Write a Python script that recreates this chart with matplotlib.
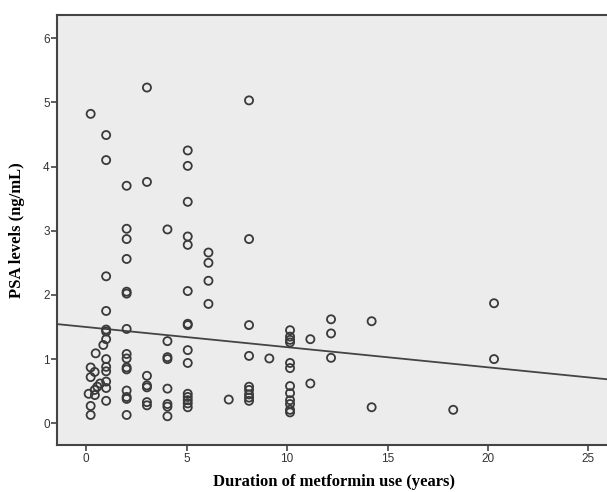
import matplotlib
matplotlib.use("Agg")
import matplotlib.pyplot as plt
import numpy as np

# ---- data ----
x_near0 = [0.23, 0.48, 0.86, 0.23, 0.43, 0.23, 0.70, 0.56, 0.43, 0.13, 0.44, 0.23, 0.23]
y_near0 = [4.82, 1.09, 1.22, 0.87, 0.80, 0.72, 0.62, 0.57, 0.52, 0.46, 0.44, 0.27, 0.13]

y_1yr = [4.49, 4.10, 2.29, 1.75, 1.46, 1.43, 1.31, 1.00, 0.88, 0.81, 0.65, 0.55, 0.35]
y_2yr = [3.70, 3.03, 2.87, 2.56, 2.05, 2.02, 1.47, 1.08, 1.01, 0.87, 0.84, 0.51, 0.41, 0.38, 0.13]
y_3yr = [5.23, 3.76, 0.74, 0.59, 0.56, 0.33, 0.28]
y_4yr = [3.02, 1.28, 1.03, 1.00, 0.54, 0.30, 0.26, 0.11]
y_5yr = [4.25, 4.01, 3.45, 2.91, 2.78, 2.06, 1.55, 1.53, 1.14, 0.94, 0.46, 0.41, 0.36, 0.31, 0.25]
y_6yr = [2.66, 2.50, 2.22, 1.86]
y_7yr = [0.37]
y_8yr = [5.03, 2.87, 1.53, 1.05, 0.57, 0.52, 0.45, 0.40, 0.35]
y_9yr = [1.01]
y_10yr = [1.45, 1.35, 1.30, 1.26, 0.94, 0.86, 0.58, 0.47, 0.36, 0.30, 0.21, 0.17]
y_11yr = [1.31, 0.62]
y_12yr = [1.62, 1.40, 1.02]
y_14yr = [1.59, 0.25]
y_18yr = [0.21]
y_20yr = [1.87, 1.00]

group_x = [1.0, 2.02, 3.03, 4.05, 5.06, 6.09, 7.1, 8.11, 9.12, 10.15, 11.16, 12.19, 14.21, 18.27, 20.3]
group_y = [y_1yr, y_2yr, y_3yr, y_4yr, y_5yr, y_6yr, y_7yr, y_8yr, y_9yr,
           y_10yr, y_11yr, y_12yr, y_14yr, y_18yr, y_20yr]

fit_intercept = 1.50
fit_slope = -0.0314

x_ticks = [0, 5, 10, 15, 20, 25]
y_ticks = [0, 1, 2, 3, 4, 5, 6]
x_label = "Duration of metformin use (years)"
y_label = "PSA levels (ng/mL)"

# ---- assemble ----
xs = list(x_near0)
ys = list(y_near0)
for gx, gy in zip(group_x, group_y):
    xs += [gx] * len(gy)
    ys += gy

fig = plt.figure(figsize=(6.07, 4.92), dpi=100)
ax = fig.add_axes([57.3 / 607, (492 - 445) / 492, (610 - 57.3) / 607, (445 - 15) / 492])
ax.set_facecolor("#ececec")

xlim = (-1.43, 26.07)
ylim = (-0.338, 6.36)

ax.scatter(xs, ys, s=34, facecolors="none", edgecolors="#3a3a3a", linewidths=1.3, zorder=3)

lx = np.array(xlim)
ax.plot(lx, fit_intercept + fit_slope * lx, color="#444444", lw=1.3, zorder=2)

ax.set_xlim(*xlim)
ax.set_ylim(*ylim)
ax.set_xticks(x_ticks)
ax.set_yticks(y_ticks)

for side in ["top", "right", "left", "bottom"]:
    ax.spines[side].set_color("#444444")
    ax.spines[side].set_linewidth(1.5)

ax.tick_params(axis="both", direction="out", length=4.5, width=1.2, color="#444444",
               labelsize=8.5, labelcolor="#333333", pad=1)
for lab in ax.get_xticklabels() + ax.get_yticklabels():
    lab.set_family("Liberation Sans")

ax.set_xlabel(x_label, fontfamily="Liberation Serif", fontweight="bold", fontsize=12, labelpad=7)
ax.set_ylabel(y_label, fontfamily="Liberation Serif", fontweight="bold", fontsize=12, labelpad=13)

fig.savefig("out.png", dpi=100, facecolor="white")
